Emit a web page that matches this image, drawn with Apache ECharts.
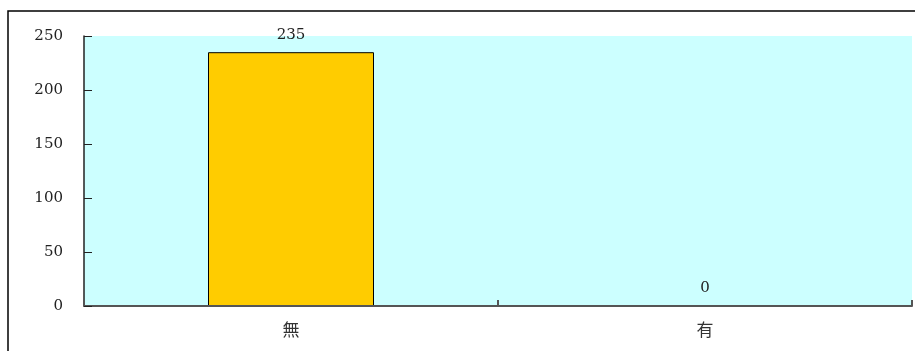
<!DOCTYPE html>
<html>
<head>
<meta charset="utf-8">
<script src="https://cdn.jsdelivr.net/npm/echarts@6/dist/echarts.min.js"></script>
<style>
html,body{margin:0;padding:0;background:#fff;}
#chart{width:915px;height:351px;}
</style>
</head>
<body>
<div id="chart"></div>
<script>
const categories = ['無', '有'];
const values = [235, 0];
const yTicks = [0, 50, 100, 150, 200, 250];

const chart = echarts.init(document.getElementById('chart'), null, {renderer: 'canvas'});
chart.setOption({
  animation: false,
  backgroundColor: '#ffffff',
  graphic: [{
    type: 'rect',
    shape: {x: 8, y: 11, width: 1000, height: 400},
    style: {fill: 'none', stroke: '#000', lineWidth: 1.5},
    z: 100
  }],
  grid: {
    left: 84, top: 36, right: 3, bottom: 45,
    show: true, backgroundColor: '#CCFFFF', borderWidth: 0
  },
  xAxis: {
    type: 'category',
    data: categories,
    z: 5,
    axisLine: {lineStyle: {color: '#555', width: 2}},
    axisTick: {show: true, inside: true, length: 6, lineStyle: {color: '#555', width: 2}},
    axisLabel: {
      color: '#333', fontSize: 17, margin: 15,
      fontFamily: '"Noto Sans CJK JP", "Noto Sans CJK TC", sans-serif'
    },
    splitLine: {show: false}
  },
  yAxis: {
    type: 'value',
    min: yTicks[0], max: yTicks[yTicks.length - 1], interval: 50,
    z: 5,
    axisLine: {show: true, lineStyle: {color: '#222', width: 1.5}},
    axisTick: {show: true, inside: true, length: 8, lineStyle: {color: '#222', width: 1}},
    axisLabel: {color: '#222', fontSize: 15, margin: 21, fontFamily: '"DejaVu Serif", serif'},
    splitLine: {show: false}
  },
  series: [{
    type: 'bar',
    data: values.map(v => ({value: v, itemStyle: v === 0 ? {borderWidth: 0} : {}})),
    barWidth: 166,
    itemStyle: {color: '#FFCC00', borderColor: '#000', borderWidth: 1},
    label: {
      show: true, position: 'top', distance: 10,
      color: '#222', fontSize: 15, fontFamily: '"DejaVu Serif", serif'
    }
  }]
});
</script>
</body>
</html>
